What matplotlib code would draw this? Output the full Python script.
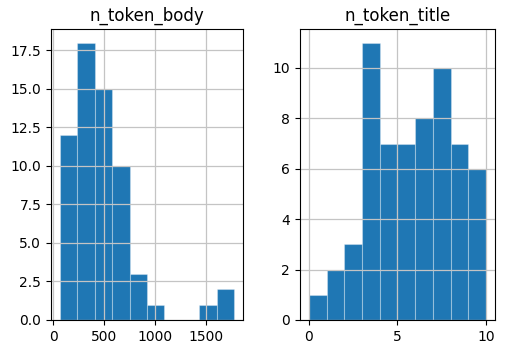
import matplotlib
matplotlib.use("Agg")
import matplotlib.pyplot as plt
import numpy as np

# histogram counts
body_counts = [12, 18, 15, 10, 3, 1, 0, 0, 1, 2]
body_min, body_max = 65, 1779
title_counts = [1, 2, 3, 11, 7, 7, 8, 10, 7, 6]
title_min, title_max = 0, 10

fig = plt.figure(figsize=(5.05, 3.52), dpi=100)
ax1 = fig.add_axes([0.101, 0.091, 0.380, 0.827])
ax2 = fig.add_axes([0.594, 0.091, 0.386, 0.827])

for ax, counts, lo, hi, name in [
    (ax1, body_counts, body_min, body_max, "n_token_body"),
    (ax2, title_counts, title_min, title_max, "n_token_title"),
]:
    edges = np.linspace(lo, hi, len(counts) + 1)
    centers = (edges[:-1] + edges[1:]) / 2
    ax.hist(centers, bins=edges, weights=counts, color="#1f77b4",
            edgecolor=(1, 1, 1, 0.3), linewidth=0.8)
    ax.grid(True, color="#c4c4c4", linewidth=0.9)
    ax.set_title(name)

plt.savefig("out.png", dpi=100)
